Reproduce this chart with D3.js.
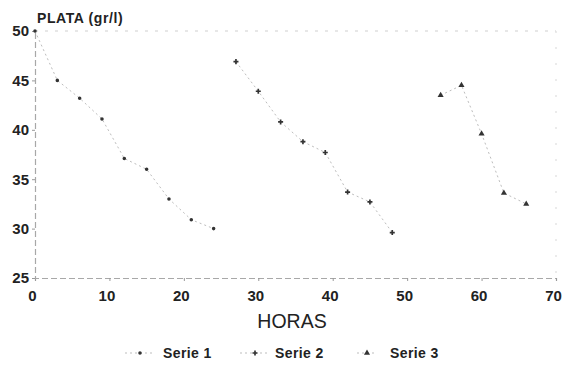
<!DOCTYPE html>
<html><head><meta charset="utf-8">
<script src="https://cdn.jsdelivr.net/npm/d3@7"></script>
<style>
html,body{margin:0;padding:0;background:#fff;}
svg{display:block;font-family:"Liberation Sans",Arial,sans-serif;}
</style></head>
<body><svg id="c" width="565" height="371"></svg>
<script>
// Data
const serie1X = [0, 3, 6, 9, 12, 15, 18, 21, 24];
const serie1Y = [50, 45, 43.2, 41.1, 37.1, 36.0, 33.0, 30.9, 30.0];
const serie2X = [27, 30, 33, 36, 39, 42, 45, 48];
const serie2Y = [46.9, 43.9, 40.8, 38.8, 37.7, 33.7, 32.7, 29.6];
const serie3X = [54.5, 57.3, 60, 63, 66];
const serie3Y = [43.5, 44.5, 39.6, 33.6, 32.5];
const seriesNames = ["Serie 1", "Serie 2", "Serie 3"];
const xTicks = [0, 10, 20, 30, 40, 50, 60, 70];
const yTicks = [25, 30, 35, 40, 45, 50];
const yTitle = "PLATA (gr/l)";
const xTitle = "HORAS";

const svg = d3.select("#c");
const x = d3.scaleLinear().domain([0, 70]).range([35, 556]);
const y = d3.scaleLinear().domain([25, 50]).range([278, 31]);

// frame (faint dotted)
const frame = svg.append("g");
frame.append("line").attr("x1", x(0)).attr("x2", x(70)).attr("y1", y(50)).attr("y2", y(50))
  .attr("stroke", "#cfcfcf").attr("stroke-dasharray", "3,7").attr("stroke-width", 1.2);
frame.append("line").attr("x1", x(70)).attr("x2", x(70)).attr("y1", y(50)).attr("y2", y(25))
  .attr("stroke", "#dedede").attr("stroke-dasharray", "2,14").attr("stroke-width", 1.2);

// axes
const xAxis = svg.append("g").attr("transform", `translate(0,${y(25)})`)
  .call(d3.axisBottom(x).tickValues(xTicks).tickSize(3).tickPadding(9).tickFormat(d3.format("d")));
const yAxis = svg.append("g").attr("transform", `translate(${x(0)},0)`)
  .call(d3.axisLeft(y).tickValues(yTicks).tickSize(3).tickPadding(3).tickFormat(d3.format("d")));
[xAxis, yAxis].forEach(g => {
  g.select(".domain").attr("stroke", "#a8a8a8").attr("stroke-dasharray", "6,3").attr("stroke-width", 1.2);
  g.selectAll(".tick line").attr("stroke", "#999");
  g.selectAll(".tick text").attr("fill", "#222").attr("font-size", 15).attr("font-weight", "bold")
    .attr("font-family", "'Liberation Sans',Arial,sans-serif");
});
xAxis.selectAll(".tick text").attr("dx", -3);

svg.append("text").attr("x", 37).attr("y", 23).attr("font-size", 14).attr("font-weight", "bold")
  .attr("letter-spacing", 0.6).attr("fill", "#222").text(yTitle);
svg.append("text").attr("x", 292).attr("y", 328).attr("text-anchor", "middle")
  .attr("font-size", 19.5).attr("fill", "#222").text(xTitle);

// series
const data = [
  serie1X.map((v, i) => [v, serie1Y[i]]),
  serie2X.map((v, i) => [v, serie2Y[i]]),
  serie3X.map((v, i) => [v, serie3Y[i]])
];
const symbols = [d3.symbolCircle, d3.symbolCross, d3.symbolTriangle];
const sizes = [10, 14, 16];
const line = d3.line().x(d => x(d[0])).y(d => y(d[1]));

data.forEach((s, k) => {
  svg.append("path").datum(s).attr("d", line).attr("fill", "none")
    .attr("stroke", "#bdbdbd").attr("stroke-width", 1).attr("stroke-dasharray", "2,3");
  svg.selectAll(null).data(s).enter().append("path")
    .attr("transform", d => `translate(${x(d[0])},${y(d[1])})`)
    .attr("d", d3.symbol().type(symbols[k]).size(sizes[k]))
    .attr("fill", "#333");
});

// legend
const legX = [125, 240, 357];
const legTextX = [163, 275, 390];
const legY = 353;
seriesNames.forEach((n, k) => {
  svg.append("line").attr("x1", legX[k]).attr("x2", legX[k] + (k === 2 ? 20 : 27))
    .attr("y1", legY).attr("y2", legY).attr("stroke", "#bdbdbd").attr("stroke-dasharray", "2,3");
  svg.append("path").attr("transform", `translate(${legX[k] + (k === 2 ? 10 : 15)},${legY})`)
    .attr("d", d3.symbol().type(symbols[k]).size(sizes[k])).attr("fill", "#333");
  svg.append("text").attr("x", legTextX[k]).attr("y", legY + 5).attr("font-size", 14)
    .attr("font-weight", "bold").attr("letter-spacing", 0.4)
    .attr("fill", "#222").text(n);
});
</script></body></html>
